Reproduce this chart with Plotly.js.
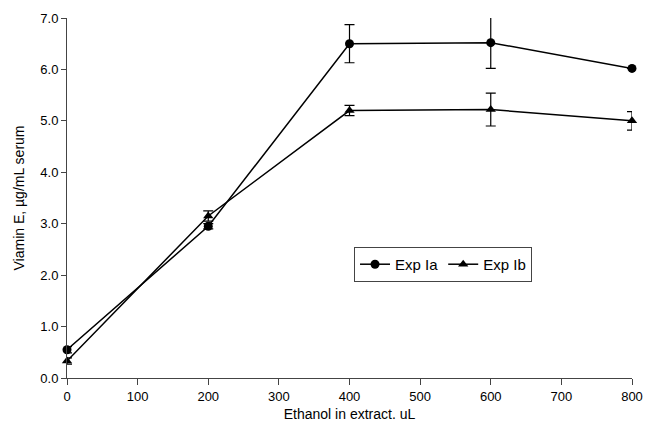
<!DOCTYPE html>
<html>
<head>
<meta charset="utf-8">
<script src="https://cdn.plot.ly/plotly-3.0.1.min.js"></script>
<style>html,body{margin:0;padding:0;background:#fff;}#chart{width:645px;height:432px;}</style>
</head>
<body>
<div id="chart"></div>
<script>
const ethanol = [0, 200, 400, 600, 800];
const expIa = [0.55, 2.95, 6.50, 6.52, 6.02];
const expIaErr = [0.06, 0.05, 0.37, 0.50, 0.0];
const expIb = [0.33, 3.15, 5.20, 5.22, 5.00];
const expIbErr = [0.06, 0.10, 0.10, 0.32, 0.18];
const xTicks = [0, 100, 200, 300, 400, 500, 600, 700, 800];
const yTicks = [0, 1, 2, 3, 4, 5, 6, 7];
const yTickText = ["0.0", "1.0", "2.0", "3.0", "4.0", "5.0", "6.0", "7.0"];

const common = {
  type: 'scatter', mode: 'lines+markers', cliponaxis: false,
  line: {color: '#000', width: 1.5}
};
const traces = [
  Object.assign({}, common, {
    x: ethanol, y: expIa, name: 'Exp Ia',
    marker: {symbol: 'circle', size: 9, color: '#000'},
    error_y: {type: 'data', array: expIaErr, visible: true, color: '#000', thickness: 1.2, width: 5}
  }),
  Object.assign({}, common, {
    x: ethanol, y: expIb, name: 'Exp Ib',
    marker: {symbol: 'triangle-up', size: 9, color: '#000'},
    error_y: {type: 'data', array: expIbErr, visible: true, color: '#000', thickness: 1.2, width: 5}
  })
];

const layout = {
  width: 645, height: 432,
  margin: {l: 67, r: 13, t: 18, b: 54},
  paper_bgcolor: '#fff', plot_bgcolor: '#fff',
  font: {family: 'Liberation Sans, Arial, sans-serif', size: 13, color: '#000'},
  showlegend: true,
  legend: {
    x: 0.508, y: 0.364, xanchor: 'left', yanchor: 'top',
    orientation: 'h', bordercolor: '#444', borderwidth: 1,
    bgcolor: '#fff', font: {size: 15}, itemwidth: 30
  },
  xaxis: {
    range: [0, 800], tickvals: xTicks, ticktext: xTicks.map(String),
    ticklabeloverflow: 'allow', automargin: false,
    showgrid: false, zeroline: false, showline: true, linecolor: '#444', linewidth: 1,
    ticks: 'outside', ticklen: 6, tickcolor: '#444',
    tickfont: {size: 13},
    title: {text: 'Ethanol in extract. uL', font: {size: 14}, standoff: 6}
  },
  yaxis: {
    range: [0, 7], tickvals: yTicks, ticktext: yTickText,
    showgrid: false, zeroline: false, showline: true, linecolor: '#444', linewidth: 1,
    ticks: 'outside', ticklen: 5, tickcolor: '#444',
    tickfont: {size: 13},
    title: {text: 'Viamin E, µg/mL serum', font: {size: 14}, standoff: 12}
  }
};
Plotly.newPlot('chart', traces, layout, {displayModeBar: false, staticPlot: true});
</script>
</body>
</html>
